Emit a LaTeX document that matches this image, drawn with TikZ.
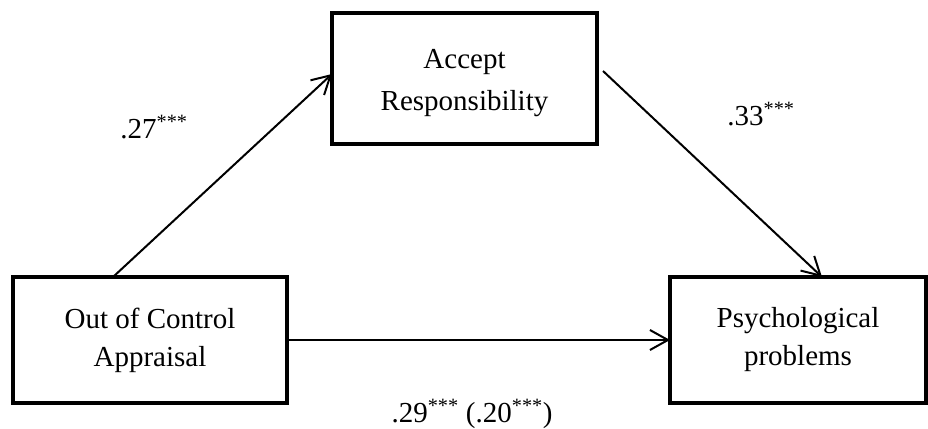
\documentclass[tikz,border=0pt]{standalone}
\usepackage{fontspec}
\setmainfont{Liberation Serif}
\usetikzlibrary{positioning,arrows.meta}
\begin{document}
\begin{tikzpicture}[x=1pt,y=-1pt,-{Straight Barb[length=18pt,width=20pt]},line width=2pt,
            var node/.style={draw,line width=4pt,inner sep=0pt,outer sep=0pt,align=center,
              minimum height=126pt,font=\fontsize{29}{38}\selectfont},
            coef/.style={inner sep=0pt,anchor=base,font=\fontsize{29}{35}\selectfont}]
        \useasboundingbox (0,0) rectangle (928,428);

        % Define vertices
        \node[var node,minimum width=274pt] (oca) at (150,340) {Out of Control\\Appraisal};
        \node[var node,minimum width=256pt] (pp) [right=383pt of oca] {Psychological\\problems};
        \node[var node,minimum width=265pt,minimum height=131pt,
              font=\fontsize{29}{42}\selectfont] (ar) at (464.5,78.5) {\rule{0pt}{29pt}Accept\\Responsibility};

        % Coefficients
        \node[coef] (a) at (154,138) {.27\textsuperscript{***}};
        \node[coef] (b) at (761,125) {.33\textsuperscript{***}};
        \node[coef] (c) at (472,422) {.29\textsuperscript{***} (.20\textsuperscript{***})};

        % Draw edges
        \path
            ([xshift=-37pt]oca.north) edge ([yshift=4.5pt]ar.west)
            ([xshift=6pt,yshift=7.5pt]ar.east) edge ([xshift=24pt]pp.north)
            (oca.east) edge (pp.west);

        \end{tikzpicture}
\end{document}
